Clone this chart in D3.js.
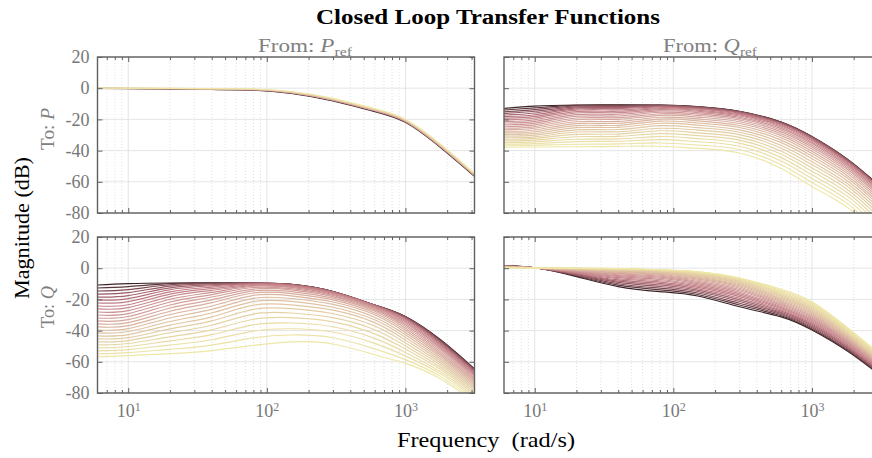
<!DOCTYPE html>
<html>
<head>
<meta charset="utf-8">
<script src="https://cdn.jsdelivr.net/npm/d3@7"></script>
<style>
  html, body { margin: 0; padding: 0; background: #fff; }
  svg { display: block; }
  text { font-family: "Liberation Serif", "Times New Roman", serif; }
</style>
</head>
<body>
<svg id="chart" width="872" height="458"></svg>
<script>
// Frequency points (rad/s) at which every response is sampled
const freqs = [6, 10, 20, 40, 80, 150, 300, 600, 1000, 1800, 3150];

// Magnitude (dB), one row per parameter value, light -> dark
const magPfromPref = [
  [0.15, 0.05, -0.1, -0.25, -0.5, -2.1, -6.5, -13.1, -19.9, -36.0, -54.6],
  [0.1, 0.0, -0.15, -0.35, -0.65, -2.4, -6.9, -13.6, -20.4, -36.6, -55.1],
  [0.0, -0.1, -0.3, -0.5, -0.85, -2.7, -7.4, -14.1, -20.9, -37.2, -55.6],
  [0.0, -0.15, -0.35, -0.6, -1.0, -2.9, -7.6, -14.3, -21.2, -37.5, -55.8],
  [-0.05, -0.2, -0.45, -0.7, -1.1, -3.1, -7.9, -14.6, -21.5, -37.8, -56.1],
  [-0.15, -0.3, -0.55, -0.85, -1.3, -3.4, -8.2, -15.0, -21.9, -38.2, -56.5]
];

const magPfromQref = [
  [-37.9,-37.7,-37.5,-37.3,-37.2,-38.6,-41.5,-51.5,-63.0,-76.5,-96.0],
  [-36.9,-36.6,-35.9,-35.7,-35.1,-36.4,-39.3,-49.1,-60.4,-74.0,-93.4],
  [-35.8,-35.5,-34.2,-34.0,-33.0,-34.3,-37.2,-46.7,-57.9,-71.6,-90.8],
  [-34.8,-34.4,-32.7,-32.5,-31.0,-32.3,-35.2,-44.5,-55.5,-69.2,-88.4],
  [-33.8,-33.3,-31.1,-30.9,-29.1,-30.4,-33.3,-42.4,-53.2,-67.0,-86.1],
  [-32.7,-32.2,-29.6,-29.4,-27.3,-28.6,-31.5,-40.4,-51.1,-64.9,-83.9],
  [-31.7,-31.2,-28.1,-27.9,-25.7,-26.9,-29.8,-38.5,-49.0,-62.9,-81.8],
  [-30.6,-30.1,-26.7,-26.5,-24.0,-25.3,-28.2,-36.7,-47.1,-61.1,-79.8],
  [-29.6,-29.0,-25.3,-25.1,-22.5,-23.7,-26.7,-34.9,-45.2,-59.3,-77.9],
  [-28.6,-27.9,-24.0,-23.8,-21.1,-22.3,-25.2,-33.3,-43.5,-57.6,-76.2],
  [-27.5,-26.8,-22.7,-22.5,-19.8,-20.9,-23.9,-31.8,-41.9,-56.1,-74.6],
  [-26.5,-25.7,-21.5,-21.3,-18.6,-19.7,-22.6,-30.4,-40.4,-54.6,-73.0],
  [-25.5,-24.6,-20.2,-20.0,-17.4,-18.5,-21.5,-29.2,-39.0,-53.3,-71.6],
  [-24.4,-23.5,-19.1,-18.9,-16.4,-17.4,-20.4,-28.0,-37.7,-52.0,-70.3],
  [-23.4,-22.4,-18.0,-17.8,-15.4,-16.5,-19.4,-26.9,-36.6,-50.9,-69.1],
  [-22.3,-21.3,-16.9,-16.7,-14.5,-15.6,-18.6,-25.9,-35.5,-49.9,-68.1],
  [-21.3,-20.2,-15.9,-15.7,-13.7,-14.8,-17.8,-25.0,-34.6,-48.9,-67.1],
  [-20.3,-19.1,-15.0,-14.8,-13.1,-14.1,-17.1,-24.2,-33.7,-48.1,-66.3],
  [-19.2,-18.1,-14.1,-13.9,-12.5,-13.5,-16.5,-23.6,-33.0,-47.4,-65.5],
  [-18.2,-17.0,-13.3,-13.1,-12.0,-13.0,-16.0,-23.0,-32.4,-46.9,-64.9],
  [-17.2,-15.9,-12.6,-12.4,-11.5,-12.6,-15.5,-22.5,-31.9,-46.4,-64.4],
  [-16.1,-14.8,-12.0,-11.8,-11.2,-12.2,-15.2,-22.2,-31.5,-46.0,-64.0],
  [-15.1,-13.7,-11.4,-11.2,-11.0,-12.0,-15.0,-21.9,-31.2,-45.7,-63.7],
  [-14.0,-12.6,-11.0,-10.8,-10.8,-11.9,-14.9,-21.8,-31.1,-45.6,-63.6],
  [-13.0,-11.5,-10.8,-10.6,-10.8,-11.8,-14.8,-21.7,-31.0,-45.5,-63.5]
];

const magQfromPref = [
  [-56.8,-56.0,-54.8,-52.8,-49.5,-47.2,-48.6,-55.5,-61.0,-71.0,-86.0],
  [-54.9,-54.1,-52.0,-49.3,-44.7,-42.8,-44.6,-51.7,-58.6,-69.5,-84.7],
  [-53.0,-52.2,-49.3,-45.9,-40.3,-38.8,-40.9,-48.2,-56.2,-67.9,-83.4],
  [-51.1,-50.2,-46.6,-42.6,-36.3,-35.1,-37.5,-45.0,-54.0,-66.5,-82.1],
  [-49.1,-48.3,-44.0,-39.5,-32.7,-31.7,-34.4,-42.1,-51.8,-65.0,-80.9],
  [-47.2,-46.4,-41.4,-36.6,-29.4,-28.7,-31.7,-39.4,-49.8,-63.6,-79.6],
  [-45.3,-44.5,-38.9,-33.8,-26.4,-25.9,-29.2,-37.1,-47.9,-62.2,-78.5],
  [-43.4,-42.6,-36.5,-31.2,-23.7,-23.5,-26.9,-34.9,-46.1,-60.9,-77.3],
  [-41.5,-40.6,-34.2,-28.7,-21.4,-21.3,-25.0,-33.1,-44.3,-59.6,-76.2],
  [-39.6,-38.7,-31.9,-26.4,-19.3,-19.4,-23.2,-31.4,-42.7,-58.4,-75.1],
  [-37.6,-36.8,-29.7,-24.2,-17.4,-17.7,-21.7,-29.9,-41.2,-57.1,-74.1],
  [-35.7,-34.9,-27.6,-22.1,-15.9,-16.3,-20.3,-28.7,-39.8,-56.0,-73.1],
  [-33.8,-33.0,-25.5,-20.3,-14.5,-15.0,-19.2,-27.6,-38.5,-54.8,-72.1],
  [-31.9,-31.0,-23.6,-18.5,-13.4,-13.9,-18.2,-26.7,-37.3,-53.8,-71.2],
  [-30.0,-29.1,-21.7,-16.9,-12.4,-13.1,-17.4,-25.9,-36.2,-52.7,-70.3],
  [-28.1,-27.2,-19.9,-15.5,-11.6,-12.3,-16.8,-25.3,-35.2,-51.7,-69.4],
  [-26.1,-25.3,-18.2,-14.2,-11.0,-11.8,-16.2,-24.8,-34.3,-50.8,-68.6],
  [-24.2,-23.4,-16.6,-13.1,-10.5,-11.3,-15.8,-24.4,-33.6,-49.9,-67.9],
  [-22.3,-21.4,-15.2,-12.1,-10.1,-11.0,-15.5,-24.1,-32.9,-49.1,-67.2],
  [-20.4,-19.5,-13.8,-11.3,-9.9,-10.7,-15.3,-23.9,-32.3,-48.4,-66.5],
  [-18.5,-17.6,-12.6,-10.6,-9.7,-10.6,-15.2,-23.8,-31.8,-47.7,-66.0],
  [-16.6,-15.7,-11.5,-10.1,-9.6,-10.5,-15.1,-23.7,-31.5,-47.1,-65.5],
  [-14.6,-13.7,-10.6,-9.7,-9.5,-10.4,-15.0,-23.6,-31.2,-46.6,-65.0],
  [-12.7,-11.8,-9.9,-9.5,-9.5,-10.4,-15.0,-23.6,-31.1,-46.2,-64.7],
  [-10.8,-9.9,-9.5,-9.4,-9.5,-10.4,-15.0,-23.6,-31.0,-46.0,-64.5]
];

const magQfromQref = [
  [0.3,0.1,0,-0.3,-1.0,-2.2,-6.3,-13.5,-21.5,-38.0,-55.7],
  [0.35,0.11,-0.01,-0.32,-1.02,-2.33,-6.46,-14.2,-22.3,-38.7,-56.3],
  [0.41,0.12,-0.04,-0.38,-1.1,-2.58,-6.74,-15.0,-23.0,-39.2,-56.8],
  [0.46,0.13,-0.08,-0.48,-1.22,-2.89,-7.11,-15.7,-23.8,-39.9,-57.4],
  [0.52,0.13,-0.15,-0.62,-1.39,-3.26,-7.55,-16.5,-24.5,-40.5,-57.9],
  [0.57,0.14,-0.23,-0.8,-1.61,-3.68,-8.05,-17.2,-25.3,-41.2,-58.5],
  [0.63,0.15,-0.34,-1.02,-1.88,-4.15,-8.6,-17.9,-26.0,-41.8,-59.1],
  [0.68,0.16,-0.46,-1.28,-2.19,-4.66,-9.2,-18.7,-26.8,-42.4,-59.6],
  [0.73,0.17,-0.6,-1.58,-2.56,-5.2,-9.84,-19.4,-27.5,-43.1,-60.2],
  [0.79,0.18,-0.76,-1.92,-2.97,-5.78,-10.52,-20.1,-28.3,-43.6,-60.7],
  [0.84,0.18,-0.94,-2.3,-3.43,-6.4,-11.25,-20.9,-29.0,-44.3,-61.3],
  [0.9,0.19,-1.13,-2.72,-3.94,-7.04,-12.01,-21.6,-29.8,-44.9,-61.8],
  [0.95,0.2,-1.35,-3.18,-4.5,-7.72,-12.81,-22.4,-30.6,-45.6,-62.4],
  [1.0,0.21,-1.58,-3.67,-5.11,-8.42,-13.64,-23.1,-31.3,-46.2,-63.0],
  [1.06,0.22,-1.84,-4.21,-5.76,-9.15,-14.5,-23.8,-32.1,-46.8,-63.5],
  [1.11,0.23,-2.11,-4.79,-6.47,-9.91,-15.39,-24.6,-32.8,-47.5,-64.1],
  [1.17,0.23,-2.4,-5.41,-7.22,-10.69,-16.32,-25.3,-33.6,-48.0,-64.6],
  [1.22,0.24,-2.71,-6.07,-8.02,-11.5,-17.27,-26.0,-34.3,-48.7,-65.2],
  [1.28,0.25,-3.04,-6.77,-8.88,-12.33,-18.25,-26.8,-35.1,-49.4,-65.8],
  [1.33,0.26,-3.38,-7.51,-9.77,-13.19,-19.26,-27.5,-35.8,-50.0,-66.3],
  [1.38,0.27,-3.75,-8.29,-10.72,-14.07,-20.3,-28.3,-36.6,-50.6,-66.9],
  [1.44,0.28,-4.13,-9.1,-11.72,-14.97,-21.36,-29.0,-37.3,-51.2,-67.4],
  [1.49,0.28,-4.54,-9.96,-12.76,-15.89,-22.45,-29.7,-38.1,-51.9,-68.0],
  [1.55,0.29,-4.96,-10.86,-13.86,-16.83,-23.56,-30.5,-38.9,-52.4,-68.5],
  [1.6,0.3,-5.4,-11.8,-15.0,-17.8,-24.7,-31.2,-39.6,-53.1,-69.1]
];

// Axis ticks
const yTicks = [20, 0, -20, -40, -60, -80];
const decadeTicks = [10, 100, 1000];
const minorTicks = [7, 8, 9, 20, 30, 40, 50, 60, 70, 80, 90,
                    200, 300, 400, 500, 600, 700, 800, 900, 2000, 3000];

// Layout
const colX = [97.5, 504];
const rowY = [57, 237];
const panelW = 377, panelH = 156;
const grey = "#606060";

const svg = d3.select("#chart");

const x = d3.scaleLog().domain([6, 3150]).range([0, panelW]);
const y = d3.scaleLinear().domain([-80, 20]).range([panelH, 0]);

// Colour ramp for the parameter sweep: pale yellow -> tan -> rose -> dark brown
const shade = d3.scaleLinear()
  .domain([0, 0.15, 0.35, 0.55, 0.75, 0.9, 1])
  .range(["#eee7a6", "#e8d9a5", "#dec0a2", "#d29f9b", "#c07d86", "#8c525b", "#3a2226"])
  .interpolate(d3.interpolateRgb);

const line = d3.line()
  .x((v, k) => x(freqs[k]))
  .y(v => y(v))
  .curve(d3.curveNatural);

const panels = [
  { row: 0, col: 0, data: magPfromPref },
  { row: 0, col: 1, data: magPfromQref },
  { row: 1, col: 0, data: magQfromPref },
  { row: 1, col: 1, data: magQfromQref }
];

function styleAxis(sel) {
  sel.select(".domain").remove();
  sel.selectAll(".tick line").attr("stroke", grey).attr("stroke-width", 1);
  sel.selectAll(".tick text")
    .attr("fill", "#777")
    .attr("font-family", "'Liberation Serif', serif")
    .attr("font-size", 18);
}

panels.forEach((p, pi) => {
  const g = svg.append("g")
    .attr("transform", `translate(${colX[p.col]},${rowY[p.row]})`);

  g.append("clipPath").attr("id", "clip" + pi)
    .append("rect").attr("width", panelW).attr("height", panelH);

  // grid
  const grid = g.append("g");
  grid.selectAll("line.minor").data(minorTicks).join("line")
    .attr("class", "minor")
    .attr("x1", d => x(d)).attr("x2", d => x(d))
    .attr("y1", 0).attr("y2", panelH)
    .attr("stroke", "#d6d6d6").attr("stroke-width", 0.7)
    .attr("stroke-dasharray", "1,2");
  grid.selectAll("line.major").data(decadeTicks).join("line")
    .attr("class", "major")
    .attr("x1", d => x(d)).attr("x2", d => x(d))
    .attr("y1", 0).attr("y2", panelH)
    .attr("stroke", "#e2e2e2").attr("stroke-width", 0.9);
  grid.selectAll("line.hz").data(yTicks).join("line")
    .attr("class", "hz")
    .attr("x1", 0).attr("x2", panelW)
    .attr("y1", d => y(d)).attr("y2", d => y(d))
    .attr("stroke", "#e2e2e2").attr("stroke-width", 0.9);

  // responses (darkest drawn first, palest last)
  const n = p.data.length;
  const rows = p.data.map((d, i) => ({ d, t: n === 1 ? 0 : i / (n - 1) })).reverse();
  g.append("g").attr("clip-path", `url(#clip${pi})`)
    .selectAll("path").data(rows).join("path")
    .attr("d", r => line(r.d))
    .attr("fill", "none")
    .attr("stroke", r => shade(r.t))
    .attr("stroke-width", 1.15);

  // ticks
  const bottom = g.append("g").attr("transform", `translate(0,${panelH})`);
  bottom.append("g").call(d3.axisBottom(x).tickValues(minorTicks).tickSize(-3).tickFormat(""))
    .call(styleAxis);
  const major = bottom.append("g")
    .call(d3.axisBottom(x).tickValues(decadeTicks).tickSize(-5).tickPadding(11)
      .tickFormat(p.row === 1 ? d => d : ""))
    .call(styleAxis);
  if (p.row === 1) {
    major.selectAll(".tick text").each(function (d) {
      const t = d3.select(this);
      t.text(null);
      t.append("tspan").text("10");
      t.append("tspan").attr("dy", "-0.45em").attr("font-size", 12)
        .text(Math.round(Math.log10(d)));
    });
  }
  g.append("g").call(d3.axisTop(x).tickValues(minorTicks).tickSize(-3).tickFormat("")).call(styleAxis);
  g.append("g").call(d3.axisTop(x).tickValues(decadeTicks).tickSize(-5).tickFormat("")).call(styleAxis);
  g.append("g")
    .call(d3.axisLeft(y).tickValues(yTicks).tickSize(-5).tickPadding(8)
      .tickFormat(p.col === 0 ? d => String(d) : ""))
    .call(styleAxis);
  g.append("g").attr("transform", `translate(${panelW},0)`)
    .call(d3.axisRight(y).tickValues(yTicks).tickSize(-5).tickFormat(""))
    .call(styleAxis);

  // frame
  g.append("rect").attr("width", panelW).attr("height", panelH)
    .attr("fill", "none").attr("stroke", grey).attr("stroke-width", 1.4);
});

// Titles and labels
svg.append("text")
  .attr("x", 488).attr("y", 24)
  .attr("text-anchor", "middle")
  .attr("font-size", 20).attr("font-weight", "bold")
  .attr("textLength", 344).attr("lengthAdjust", "spacingAndGlyphs")
  .text("Closed Loop Transfer Functions");

function fromLabel(cx, sym) {
  const t = svg.append("text")
    .attr("x", cx).attr("y", 52)
    .attr("text-anchor", "middle")
    .attr("font-size", 19).attr("fill", "#808080")
    .attr("textLength", 94).attr("lengthAdjust", "spacingAndGlyphs");
  t.append("tspan").text("From: ");
  t.append("tspan").attr("font-style", "italic").text(sym);
  t.append("tspan").attr("font-size", 13).attr("dy", 4).text("ref");
}
fromLabel(305, "P");
fromLabel(710, "Q");

function toLabel(cy, sym) {
  const t = svg.append("text")
    .attr("transform", `translate(54,${cy}) rotate(-90)`)
    .attr("text-anchor", "middle")
    .attr("font-size", 19).attr("fill", "#808080")
    .attr("textLength", 42).attr("lengthAdjust", "spacingAndGlyphs");
  t.append("tspan").text("To: ");
  t.append("tspan").attr("font-style", "italic").text(sym);
}
toLabel(rowY[0] + panelH / 2 - 6, "P");
toLabel(rowY[1] + panelH / 2 - 8, "Q");

svg.append("text")
  .attr("transform", "translate(29,228) rotate(-90)")
  .attr("text-anchor", "middle")
  .attr("font-size", 21)
  .attr("textLength", 142).attr("lengthAdjust", "spacingAndGlyphs")
  .text("Magnitude (dB)");

svg.append("text")
  .attr("x", 486).attr("y", 447)
  .attr("text-anchor", "middle")
  .attr("font-size", 21)
  .attr("textLength", 178).attr("lengthAdjust", "spacingAndGlyphs")
  .text("Frequency\u00a0\u00a0(rad/s)");
</script>
</body>
</html>
